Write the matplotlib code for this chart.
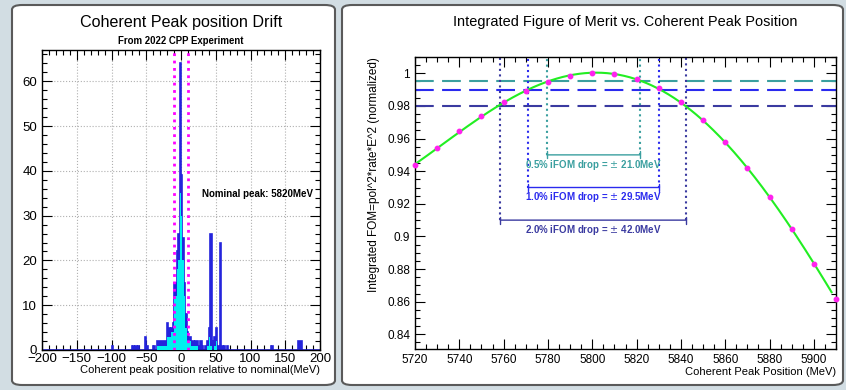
import numpy as np
import matplotlib
matplotlib.use('Agg')
import matplotlib.pyplot as plt
from matplotlib.patches import FancyBboxPatch
from matplotlib.ticker import MultipleLocator

plt.rcParams['font.family'] = ['Liberation Sans', 'DejaVu Sans']

# ---- left: coherent peak drift histogram (2 MeV bins, left edges) ----
drift_bins = [-100, -70, -66, -62, -52, -50, -40, -34, -32, -30, -28, -26, -24, -22,
              -20, -18, -16, -14, -12, -10, -8, -6, -4, -2, 0, 2, 4, 6, 8, 10, 12,
              14, 16, 18, 20, 22, 24, 26, 28, 30, 34, 38, 40, 42, 44, 48, 50, 52,
              56, 58, 62, 66, 130, 168, 170, 172]
drift_counts = [1, 1, 1, 1, 3, 1, 1, 2, 2, 2, 2, 2, 2, 2,
                6, 5, 4, 5, 6, 15, 15, 22, 26, 64, 39, 25, 15, 8, 4, 3, 3,
                2, 2, 1, 2, 2, 1, 1, 2, 1, 1, 2, 5, 26, 2, 3, 5, 1,
                24, 1, 1, 1, 1, 2, 2, 2]
sel_bins = [-34, -32, -30, -28, -26, -24, -22, -20, -18, -16, -14, -12, -10, -8,
            -6, -4, -2, 0, 2, 4, 6, 8, 10, 12, 14, 16, 18, 20, 22, 38, 40, 42,
            48, 50]
sel_counts = [1, 1, 1, 1, 1, 1, 1, 3, 3, 3, 4, 4, 12, 12,
              18, 20, 35, 30, 20, 12, 5, 2, 2, 2, 1, 1, 1, 1, 1, 1, 3, 1,
              1, 2]
window = [-10, 10]

# ---- right: integrated FOM vs peak position ----
peak_pos = [5720, 5730, 5740, 5750, 5760, 5770, 5780, 5790, 5800, 5810,
            5820, 5830, 5840, 5850, 5860, 5870, 5880, 5890, 5900, 5910]
ifom = [0.9437, 0.9544, 0.9646, 0.9736, 0.9822, 0.9891, 0.9945, 0.9983, 1.0000, 0.9996,
        0.9965, 0.9912, 0.9822, 0.9713, 0.9577, 0.9417, 0.9239, 0.9043, 0.8834, 0.8617]
drops = [0.5, 1.0, 2.0]
half_widths = [21.0, 29.5, 42.0]
drop_colors = ['#3a9f9f', '#2a2aee', '#3a3aa0']
bracket_y = [0.950, 0.930, 0.910]
center = 5800.5


def full_hist(bins, counts):
    edges = np.arange(-200, 202, 2)
    h = np.zeros(len(edges) - 1)
    for b, c in zip(bins, counts):
        h[(b + 200) // 2] = c
    return edges, h


def root_ticks(ax, size=9):
    ax.tick_params(which='both', direction='in', top=True, right=True, labelsize=size)
    ax.tick_params(which='major', length=7, width=0.8)
    ax.tick_params(which='minor', length=3.5, width=0.8)
    for s in ax.spines.values():
        s.set_linewidth(1.0)


fig = plt.figure(figsize=(8.46, 3.9), dpi=100)
fig.patch.set_facecolor('#d2dde3')

# panel frames
for x0, w in [(12, 323), (342, 501)]:
    fig.patches.append(FancyBboxPatch((x0 / 846, 5 / 390), w / 846, 380 / 390,
                                      boxstyle='round,pad=0,rounding_size=0.012',
                                      transform=fig.transFigure, facecolor='white',
                                      edgecolor='#5a5a5a', lw=1.5, zorder=-5))

# left histogram: all runs in blue, selected runs in cyan on top
ax1 = fig.add_axes([42 / 846, 1 - 350 / 390, 278 / 846, 300 / 390])
ax1.set_zorder(2)
edges, h_all = full_hist(drift_bins, drift_counts)
_, h_sel = full_hist(sel_bins, sel_counts)
ax1.stairs(h_all, edges, fill=True, color='#2424dc', zorder=2)
ax1.stairs(h_all, edges, color='#2424dc', lw=1.2, zorder=2)
ax1.stairs(h_sel, edges, fill=True, color='#00f0f0', zorder=3)
for xv in window:
    ax1.axvline(xv, color='#ff00ff', ls=':', lw=2, zorder=4)
ax1.set_xlim(-200, 200)
ax1.set_ylim(0, 67)
ax1.xaxis.set_major_locator(MultipleLocator(50))
ax1.xaxis.set_minor_locator(MultipleLocator(10))
ax1.yaxis.set_major_locator(MultipleLocator(10))
ax1.yaxis.set_minor_locator(MultipleLocator(2))
ax1.grid(True, which='major', ls=':', color='#b0b0b0', lw=0.8)
ax1.set_axisbelow(True)
root_ticks(ax1, 9.5)
ax1.tick_params(axis='x', pad=2)
ax1.set_xlabel('Coherent peak position relative to nominal(MeV)', fontsize=8,
               loc='right', labelpad=0)
ax1.text(0.975, 0.52, 'Nominal peak: 5820MeV', transform=ax1.transAxes, ha='right',
         va='center', fontsize=7, fontweight='bold')
fig.text(181 / 846, 1 - 22 / 390, 'Coherent Peak position Drift', ha='center',
         va='center', fontsize=11.6)
fig.text(181 / 846, 1 - 41 / 390, 'From 2022 CPP Experiment', ha='center',
         va='center', fontsize=6.9, fontweight='bold')

# right: FOM curve with fitted line
ax2 = fig.add_axes([415 / 846, 1 - 349 / 390, 421 / 846, 292 / 390])
ax2.set_zorder(2)
coef = np.polyfit(peak_pos, ifom, 4)
xs = np.linspace(5720, 5908, 300)
ax2.plot(xs, np.polyval(coef, xs), color='#22ee22', lw=1.5, zorder=3)
ax2.plot(peak_pos, ifom, 'o', color='#ff22ee', ms=3.2, zorder=4, clip_on=False)

for d, hw, c, by in zip(drops, half_widths, drop_colors, bracket_y):
    lvl = 1 - d / 100
    ax2.axhline(lvl, color=c, ls=(0, (9, 4)), lw=1.5, zorder=2)
    lo, hi = center - hw, center + hw
    for xv in (lo, hi):
        ax2.plot([xv, xv], [by, 1.01], color=c, ls=':', lw=1.5, zorder=2)
    ax2.annotate('', xy=(lo, by), xytext=(hi, by),
                 arrowprops=dict(arrowstyle='|-|,widthA=0.25,widthB=0.25', color=c, lw=1.0,
                                 shrinkA=0, shrinkB=0))
    ax2.text(center, by - 0.006, f'{d:.1f}% iFOM drop = $\\pm$ {hw:.1f}MeV', ha='center',
             va='center', color=c, fontsize=7, fontweight='bold')

ax2.set_xlim(5720, 5910)
ax2.set_ylim(0.831, 1.010)
ax2.xaxis.set_major_locator(MultipleLocator(20))
ax2.xaxis.set_minor_locator(MultipleLocator(5))
ax2.yaxis.set_major_locator(MultipleLocator(0.02))
ax2.yaxis.set_minor_locator(MultipleLocator(0.005))
ax2.yaxis.set_major_formatter(plt.FuncFormatter(lambda v, p: f'{v:g}'))
root_ticks(ax2, 8.5)
ax2.set_xlabel('Coherent Peak Position (MeV)', fontsize=8, loc='right', labelpad=1)
ax2.set_ylabel('Integrated FOM=pol^2*rate*E^2 (normalized)', fontsize=8.5, loc='top',
               labelpad=5)
fig.text(625 / 846, 1 - 22 / 390, 'Integrated Figure of Merit vs. Coherent Peak Position',
         ha='center', va='center', fontsize=10.45)

fig.savefig('out.png', dpi=100, facecolor=fig.get_facecolor())
